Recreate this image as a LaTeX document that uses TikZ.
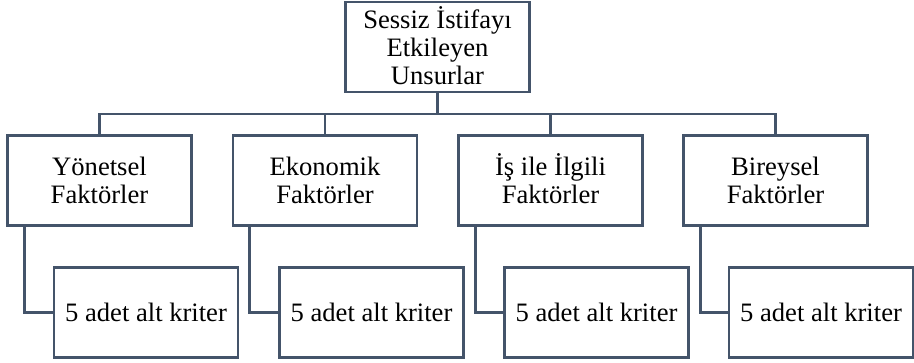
\documentclass[tikz,border=0pt]{standalone}
\usepackage{fontspec}
\setmainfont{Liberation Serif}
\definecolor{frame}{HTML}{44546A}
\tikzset{
  box/.style={draw=frame,line width=1.4pt,fill=white,align=center,inner sep=0pt,
    minimum width=92pt,minimum height=45pt,font=\fontsize{13.3}{13.9}\selectfont},
  link/.style={draw=frame,line width=1.4pt}
}
\begin{document}
\begin{tikzpicture}[x=0.5pt,y=-0.5pt]
  \useasboundingbox (0,0) rectangle (914,363);
  \node[box] (00) at (437.5,47) {Sessiz \smash{İ}stifayı\\Etkileyen\\Unsurlar};
  \node[box] (10) at (99.5,180.5) {Yönetsel\\Faktörler};
  \node[box] (20) at (325,180.5) {Ekonomik\\Faktörler};
  \node[box] (30) at (550.5,180.5) {\smash{İ}ş ile \smash{İ}lgili\\Faktörler};
  \node[box] (40) at (775.5,180.5) {Bireysel\\Faktörler};
  \node[box] (11) at (146,312.5) {5 adet alt kriter};
  \node[box] (21) at (371.5,312.5) {5 adet alt kriter};
  \node[box] (31) at (596.5,312.5) {5 adet alt kriter};
  \node[box] (41) at (821,312.5) {5 adet alt kriter};
  \coordinate (bus) at (437.5,114);
  \draw[link] (00.south) -- (bus);
  \draw[link] (bus) -| (10.north);
  \draw[link] (bus) -| (20.north);
  \draw[link] (bus) -| (30.north);
  \draw[link] (bus) -| (40.north);
  \draw[link] ([xshift=9pt]10.south west) |- (11.west);
  \draw[link] ([xshift=9pt]20.south west) |- (21.west);
  \draw[link] ([xshift=9pt]30.south west) |- (31.west);
  \draw[link] ([xshift=9pt]40.south west) |- (41.west);
\end{tikzpicture}
\end{document}
